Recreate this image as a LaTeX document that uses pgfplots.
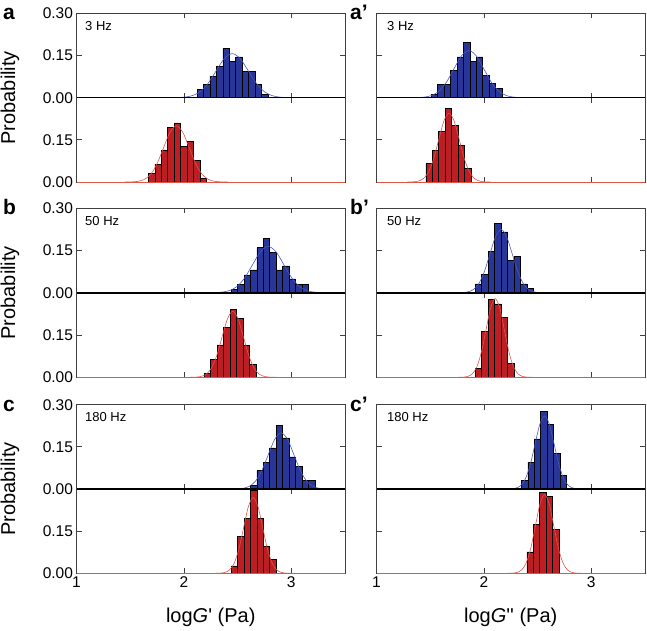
\documentclass[border=0pt]{standalone}
\usepackage{fontspec}
\setmainfont{Liberation Sans}
\usepackage{pgfplots}
\pgfplotsset{compat=1.18}
\definecolor{barblue}{HTML}{28369A}
\definecolor{barred}{HTML}{BC1E24}
\definecolor{lineblue}{HTML}{4A58B8}
\definecolor{linered}{HTML}{E05545}
\definecolor{frame}{HTML}{404040}
\pgfplotsset{
  sub/.style={
    scale only axis, width=268.5bp, height=84.3bp, anchor=south west,
    xmin=1, xmax=3.5, ymin=0, ymax=0.3,
    xtick={1,2,3}, ytick={0,0.15,0.3},
    tick align=inside, major tick length=5bp,
    axis line style={draw=frame, line width=0.8bp},
    every tick/.style={draw=frame, line width=0.8bp},
    clip=false,
    ticklabel style={font=\fontsize{15.5bp}{18bp}\selectfont},
    yticklabel style={/pgf/number format/.cd, fixed, fixed zerofill, precision=2, assume math mode=true},
    xticklabel style={/pgf/number format/assume math mode=true},
  },
  noxl/.style={xticklabels={}},
  noyl/.style={yticklabels={}},
  bluebar/.style={ybar, bar width=0.06, fill=barblue, draw=black, line width=0.7bp},
  redbar/.style={ybar, bar width=0.06, fill=barred, draw=black, line width=0.7bp},
  bluefit/.style={lineblue, line width=0.6bp, smooth, no marks},
  redfit/.style={linered, line width=0.6bp, smooth, no marks},
  midline/.style={black, line width=1.3bp, no marks},
  redzero/.style={linered, line width=0.9bp, no marks},
}
\newcommand{\lab}{\fontsize{20bp}{23bp}\selectfont}
\newcommand{\hz}{\fontsize{13bp}{15bp}\selectfont}
\newcommand{\pl}{\fontsize{21bp}{24bp}\selectfont\bfseries}
\begin{document}
\begin{tikzpicture}
\useasboundingbox (0,0) rectangle (647bp,631bp);
% ===== Row a, left =====
\begin{axis}[sub, noxl, at={(76.5bp,533.3bp)}]
\addplot[bluebar] coordinates {(2.153,0.030) (2.213,0.046) (2.273,0.077) (2.333,0.110) (2.393,0.175) (2.453,0.130) (2.513,0.145) (2.573,0.094) (2.633,0.094) (2.693,0.048) (2.753,0.012)};
\addplot[bluefit] coordinates {(1.85,0.00005) (1.925,0.00035) (2.0,0.0017) (2.075,0.0069) (2.15,0.0212) (2.225,0.0510) (2.30,0.0952) (2.375,0.1386) (2.45,0.157) (2.525,0.1386) (2.60,0.0952) (2.675,0.0510) (2.75,0.0212) (2.825,0.0069) (2.90,0.0017) (2.975,0.00035) (3.05,0.00005)};
\end{axis}
\begin{axis}[sub, noxl, ytick={0,0.15}, at={(76.5bp,449bp)}]
\addplot[redbar] coordinates {(1.70,0.032) (1.76,0.064) (1.82,0.114) (1.88,0.194) (1.94,0.210) (2.00,0.128) (2.06,0.145) (2.12,0.078) (2.18,0.012)};
\addplot[redfit] coordinates {(1.45,0.0001) (1.51,0.0004) (1.57,0.0022) (1.63,0.0088) (1.69,0.0271) (1.75,0.0649) (1.81,0.1213) (1.87,0.1765) (1.93,0.20) (1.99,0.1765) (2.05,0.1213) (2.11,0.0649) (2.17,0.0271) (2.23,0.0088) (2.29,0.0022) (2.35,0.0004) (2.41,0.0001)};
\addplot[redzero] coordinates {(1,0) (3.5,0)};
\addplot[midline] coordinates {(1,0.3) (3.5,0.3)};
\end{axis}
% ===== Row a, right =====
\begin{axis}[sub, noxl, noyl, at={(376.5bp,533.3bp)}]
\addplot[bluebar] coordinates {(1.54,0.013) (1.60,0.047) (1.66,0.047) (1.72,0.098) (1.78,0.145) (1.84,0.196) (1.90,0.130) (1.96,0.145) (2.02,0.080) (2.08,0.052) (2.14,0.032)};
\addplot[bluefit] coordinates {(1.30,0.0001) (1.37,0.0004) (1.44,0.0019) (1.51,0.0074) (1.58,0.0227) (1.65,0.0545) (1.72,0.1019) (1.79,0.1483) (1.86,0.168) (1.93,0.1483) (2.00,0.1019) (2.07,0.0545) (2.14,0.0227) (2.21,0.0074) (2.28,0.0019) (2.35,0.0004) (2.42,0.0001)};
\end{axis}
\begin{axis}[sub, noxl, noyl, at={(376.5bp,449bp)}]
\addplot[redbar] coordinates {(1.49,0.065) (1.55,0.113) (1.61,0.180) (1.67,0.261) (1.73,0.200) (1.79,0.129) (1.85,0.048)};
\addplot[redfit] coordinates {(1.287,0.0001) (1.3355,0.0005) (1.384,0.0027) (1.4325,0.0108) (1.481,0.0331) (1.5295,0.0796) (1.578,0.1486) (1.6265,0.2162) (1.675,0.245) (1.7235,0.2162) (1.772,0.1486) (1.8205,0.0796) (1.869,0.0331) (1.9175,0.0108) (1.966,0.0027) (2.0145,0.0005) (2.063,0.0001)};
\addplot[redzero] coordinates {(1,0) (3.5,0)};
\addplot[midline] coordinates {(1,0.3) (3.5,0.3)};
\end{axis}
% ===== Row b, left =====
\begin{axis}[sub, noxl, at={(76.5bp,338.3bp)}]
\addplot[bluebar] coordinates {(2.47,0.013) (2.53,0.030) (2.59,0.063) (2.65,0.081) (2.71,0.160) (2.77,0.193) (2.83,0.144) (2.89,0.081) (2.95,0.095) (3.01,0.049) (3.07,0.030) (3.13,0.030)};
\addplot[bluefit] coordinates {(2.205,0.0001) (2.2775,0.0004) (2.35,0.0018) (2.4225,0.0072) (2.495,0.0223) (2.5675,0.0536) (2.64,0.1001) (2.7125,0.1456) (2.785,0.165) (2.8575,0.1456) (2.93,0.1001) (3.0025,0.0536) (3.075,0.0223) (3.1475,0.0072) (3.22,0.0018) (3.2925,0.0004) (3.365,0.0001)};
\end{axis}
\begin{axis}[sub, noxl, ytick={0,0.15}, at={(76.5bp,253.7bp)}]
\addplot[redbar] coordinates {(2.22,0.014) (2.28,0.065) (2.34,0.115) (2.40,0.177) (2.46,0.242) (2.52,0.209) (2.58,0.112) (2.64,0.047)};
\addplot[redfit] coordinates {(2.055,0.0001) (2.105,0.0005) (2.155,0.0026) (2.205,0.0103) (2.255,0.0318) (2.305,0.0763) (2.355,0.1425) (2.405,0.2074) (2.455,0.235) (2.505,0.2074) (2.555,0.1425) (2.605,0.0763) (2.655,0.0318) (2.705,0.0103) (2.755,0.0026) (2.805,0.0005) (2.855,0.0001)};
\addplot[redzero] coordinates {(1,0) (3.5,0)};
\addplot[midline] coordinates {(1,0.3) (3.5,0.3)};
\end{axis}
% ===== Row b, right =====
\begin{axis}[sub, noxl, noyl, at={(376.5bp,338.3bp)}]
\addplot[bluebar] coordinates {(1.95,0.031) (2.01,0.064) (2.07,0.147) (2.13,0.245) (2.19,0.216) (2.25,0.115) (2.31,0.130) (2.37,0.031) (2.43,0.014)};
\addplot[bluefit] coordinates {(1.74,0.0001) (1.7925,0.0005) (1.845,0.0025) (1.8975,0.0099) (1.95,0.0304) (2.0025,0.0731) (2.055,0.1365) (2.1075,0.1986) (2.16,0.225) (2.2125,0.1986) (2.265,0.1365) (2.3175,0.0731) (2.37,0.0304) (2.4225,0.0099) (2.475,0.0025) (2.5275,0.0005) (2.58,0.0001)};
\end{axis}
\begin{axis}[sub, noxl, noyl, at={(376.5bp,253.7bp)}]
\addplot[redbar] coordinates {(1.95,0.031) (2.01,0.163) (2.07,0.277) (2.13,0.261) (2.19,0.214) (2.25,0.048)};
\addplot[redfit] coordinates {(1.765,0.0001) (1.8075,0.0006) (1.85,0.0031) (1.8925,0.0123) (1.935,0.0379) (1.9775,0.0909) (2.02,0.1698) (2.0625,0.2471) (2.105,0.28) (2.1475,0.2471) (2.19,0.1698) (2.2325,0.0909) (2.275,0.0379) (2.3175,0.0123) (2.36,0.0031) (2.4025,0.0006) (2.445,0.0001)};
\addplot[redzero] coordinates {(1,0) (3.5,0)};
\addplot[midline] coordinates {(1,0.3) (3.5,0.3)};
\end{axis}
% ===== Row c, left =====
\begin{axis}[sub, noxl, at={(76.5bp,142bp)}]
\addplot[bluebar] coordinates {(2.65,0.012) (2.71,0.065) (2.77,0.096) (2.83,0.146) (2.89,0.227) (2.95,0.182) (3.01,0.114) (3.07,0.081) (3.13,0.031) (3.19,0.031)};
\addplot[bluefit] coordinates {(2.425,0.0001) (2.485,0.0004) (2.545,0.0022) (2.605,0.0088) (2.665,0.0271) (2.725,0.0649) (2.785,0.1213) (2.845,0.1765) (2.905,0.20) (2.965,0.1765) (3.025,0.1213) (3.085,0.0649) (3.145,0.0271) (3.205,0.0088) (3.265,0.0022) (3.325,0.0004) (3.385,0.0001)};
\end{axis}
\begin{axis}[sub, ytick={0,0.15}, at={(76.5bp,57.7bp)}]
\addplot[redbar] coordinates {(2.47,0.026) (2.53,0.130) (2.59,0.194) (2.65,0.294) (2.71,0.194) (2.77,0.096) (2.83,0.048)};
\addplot[redfit] coordinates {(2.293,0.0001) (2.337,0.0006) (2.381,0.003) (2.425,0.0119) (2.469,0.0365) (2.513,0.0877) (2.557,0.1638) (2.601,0.2383) (2.645,0.27) (2.689,0.2383) (2.733,0.1638) (2.777,0.0877) (2.821,0.0365) (2.865,0.0119) (2.909,0.003) (2.953,0.0006) (2.997,0.0001)};
\addplot[redzero] coordinates {(1,0) (3.5,0)};
\addplot[midline] coordinates {(1,0.3) (3.5,0.3)};
\end{axis}
% ===== Row c, right =====
\begin{axis}[sub, noxl, noyl, at={(376.5bp,142bp)}]
\addplot[bluebar] coordinates {(2.38,0.030) (2.44,0.096) (2.50,0.178) (2.56,0.275) (2.62,0.229) (2.68,0.128) (2.74,0.049)};
\addplot[bluefit] coordinates {(2.205,0.0001) (2.25,0.0006) (2.295,0.0029) (2.34,0.0114) (2.385,0.0352) (2.43,0.0844) (2.475,0.1577) (2.52,0.2295) (2.565,0.26) (2.61,0.2295) (2.655,0.1577) (2.70,0.0844) (2.745,0.0352) (2.79,0.0114) (2.835,0.0029) (2.88,0.0006) (2.925,0.0001)};
\end{axis}
\begin{axis}[sub, noyl, at={(376.5bp,57.7bp)}]
\addplot[redbar] coordinates {(2.43,0.076) (2.49,0.174) (2.55,0.288) (2.61,0.274) (2.67,0.157)};
\addplot[redfit] coordinates {(2.225,0.0001) (2.2675,0.0006) (2.31,0.0031) (2.3525,0.0123) (2.395,0.0379) (2.4375,0.0909) (2.48,0.1698) (2.5225,0.2471) (2.565,0.28) (2.6075,0.2471) (2.65,0.1698) (2.6925,0.0909) (2.735,0.0379) (2.7775,0.0123) (2.82,0.0031) (2.8625,0.0006) (2.905,0.0001)};
\addplot[redzero] coordinates {(1,0) (3.5,0)};
\addplot[midline] coordinates {(1,0.3) (3.5,0.3)};
\end{axis}
% ===== Labels =====
\foreach \y in {533.3,338.3,142} {
  \node[rotate=90, font=\lab, inner sep=0pt] at (10bp,\y bp) {Probability};
}
\node[anchor=base west, font=\pl, inner sep=0pt] at (3bp,611bp) {a};
\node[anchor=base west, font=\pl, inner sep=0pt] at (3bp,416bp) {b};
\node[anchor=base west, font=\pl, inner sep=0pt] at (3bp,219.8bp) {c};
\node[anchor=base west, font=\pl, inner sep=0pt] at (350bp,611bp) {a’};
\node[anchor=base west, font=\pl, inner sep=0pt] at (350bp,416bp) {b’};
\node[anchor=base west, font=\pl, inner sep=0pt] at (350bp,219.8bp) {c’};
\node[anchor=base west, font=\hz, inner sep=0pt] at (85bp,600.3bp) {3 Hz};
\node[anchor=base west, font=\hz, inner sep=0pt] at (85bp,405.3bp) {50 Hz};
\node[anchor=base west, font=\hz, inner sep=0pt] at (85bp,209.1bp) {180 Hz};
\node[anchor=base west, font=\hz, inner sep=0pt] at (387bp,600.3bp) {3 Hz};
\node[anchor=base west, font=\hz, inner sep=0pt] at (387bp,405.3bp) {50 Hz};
\node[anchor=base west, font=\hz, inner sep=0pt] at (387bp,209.1bp) {180 Hz};
\node[anchor=base, font=\lab, inner sep=0pt] at (210.75bp,8.3bp) {log\textit{G}\textquotesingle{} (Pa)};
\node[anchor=base, font=\lab, inner sep=0pt] at (510.75bp,8.3bp) {log\textit{G}\textquotesingle\textquotesingle{} (Pa)};
\end{tikzpicture}
\end{document}
